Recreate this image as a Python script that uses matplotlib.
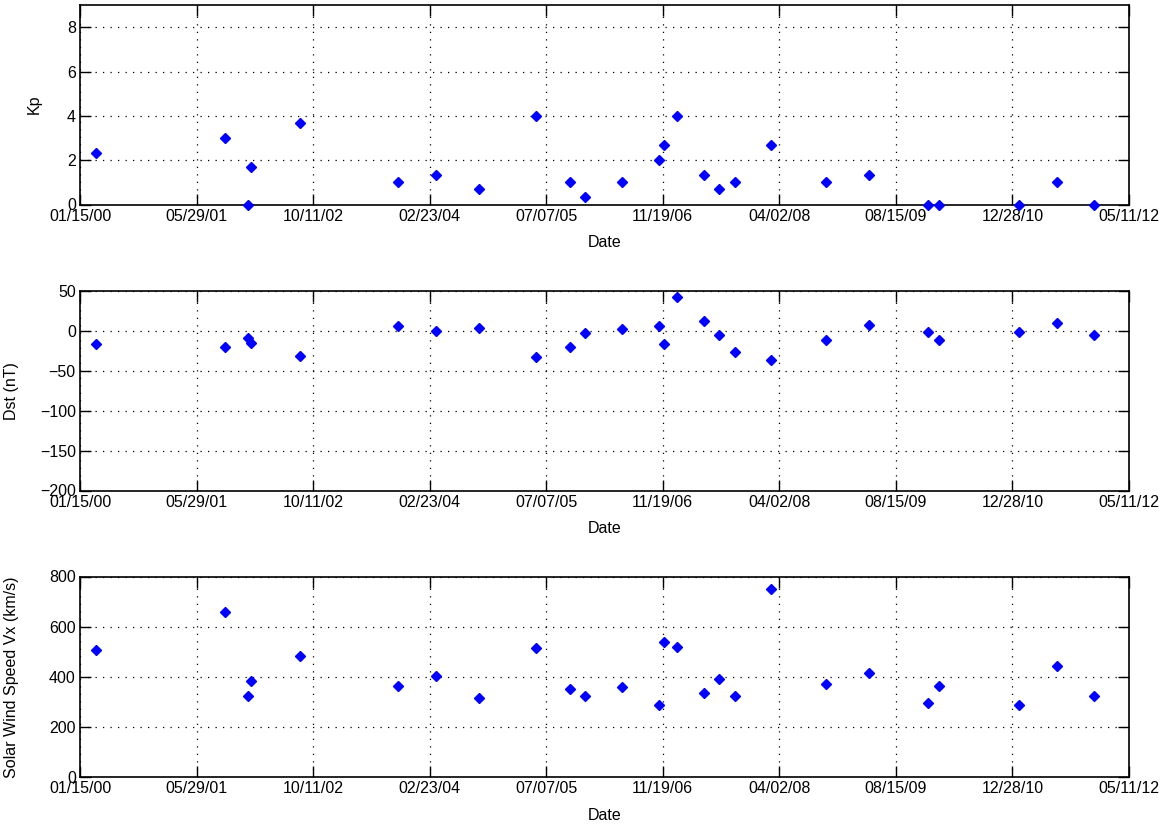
import matplotlib
matplotlib.use("Agg")
import matplotlib.pyplot as plt
import matplotlib.dates as mdates
import numpy as np
import pandas as pd

# event dates and values
dates = ["2000-03-24", "2001-09-28", "2002-01-03", "2002-01-18", "2002-08-14",
         "2003-10-09", "2004-03-21", "2004-09-22", "2005-05-26", "2005-10-16",
         "2005-12-21", "2006-05-28", "2006-11-01", "2006-11-25", "2007-01-20",
         "2007-05-13", "2007-07-20", "2007-09-24", "2008-02-27", "2008-10-18",
         "2009-04-21", "2010-01-01", "2010-02-17", "2011-01-23", "2011-07-06",
         "2011-12-11"]
kp = [2.33, 3.0, 0.0, 1.67, 3.67, 1.0, 1.33, 0.7, 4.0, 1.0,
      0.33, 1.0, 2.0, 2.67, 4.0, 1.33, 0.7, 1.0, 2.67, 1.0,
      1.33, 0.0, 0.0, 0.0, 1.0, 0.0]
dst = [-17, -20, -9, -15, -31, 6, 0, 4, -33, -20,
       -3, 2, 6, -17, 43, 12, -5, -26, -37, -11,
       8, -2, -11, -2, 10, -5]
vx = [508, 659, 322, 384, 481, 364, 404, 315, 514, 350,
      322, 359, 289, 538, 517, 337, 392, 324, 752, 372,
      413, 296, 365, 289, 441, 324]

xtick_dates = pd.date_range("2000-01-15", periods=10, freq="500D")

plt.rcParams['font.family'] = ['Liberation Sans', 'DejaVu Sans']
plt.rcParams['font.size'] = 11

t = pd.to_datetime(dates)

fig = plt.figure(figsize=(11.69, 8.26), dpi=100)
boxes = [
    [80 / 1169, 1 - 204.5 / 826, 1049 / 1169, 199.5 / 826],
    [80 / 1169, 1 - 490.5 / 826, 1049 / 1169, 199.5 / 826],
    [80 / 1169, 1 - 777 / 826, 1049 / 1169, 200.5 / 826],
]
panels = [
    (kp, "Kp", (0, 9), [0, 2, 4, 6, 8], -0.036),
    (dst, "Dst (nT)", (-200, 50), [-200, -150, -100, -50, 0, 50], -0.058),
    (vx, "Solar Wind Speed Vx (km/s)", (0, 800), [0, 200, 400, 600, 800], -0.058),
]

for box, (vals, ylab, ylim, yticks, ylab_x) in zip(boxes, panels):
    ax = fig.add_axes(box)
    ax.plot(t, vals, linestyle='none', marker='D', markersize=5,
            color='blue', markeredgecolor='blue', clip_on=False, zorder=3)
    ax.set_xlim(xtick_dates[0], xtick_dates[-1])
    ax.set_ylim(*ylim)
    ax.set_xticks(xtick_dates)
    ax.xaxis.set_major_formatter(mdates.DateFormatter('%m/%d/%y'))
    ax.set_yticks(yticks)
    ax.grid(True, color='black', linestyle=(0, (1, 5)), linewidth=0.9)
    ax.tick_params(direction='in', length=8, width=1, top=True, right=True,
                   labelsize=11.5, pad=3)
    for s in ax.spines.values():
        s.set_linewidth(1.2)
    ax.set_xlabel("Date", fontsize=11.5)
    ax.xaxis.set_label_coords(0.5, -0.155)
    ax.set_ylabel(ylab, fontsize=11.5)
    ax.yaxis.set_label_coords(ylab_x, 0.5)

fig.savefig("out.png", dpi=100)
